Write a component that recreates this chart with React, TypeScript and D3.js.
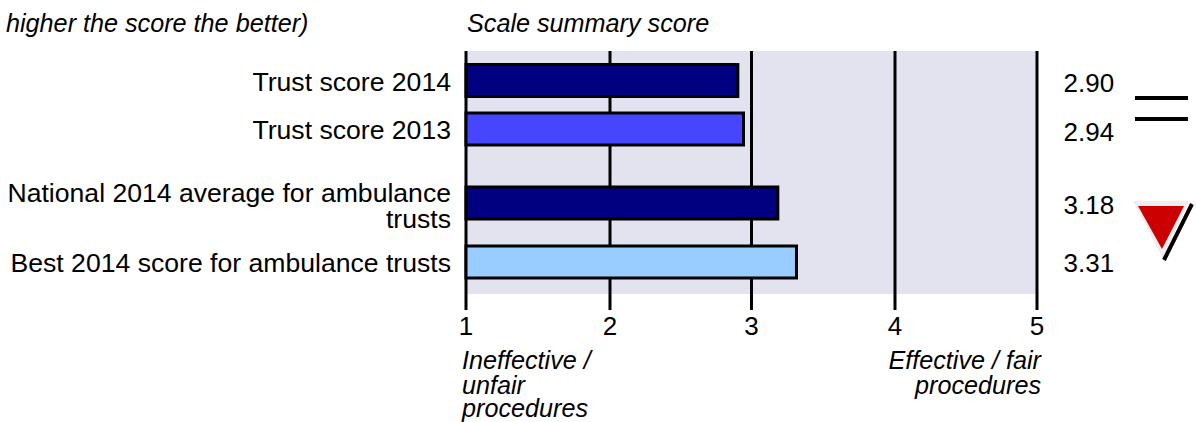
import React from "react";
import * as d3 from "d3";

const categories = ["Trust score 2014", "Trust score 2013", "National 2014 average for ambulance trusts", "Best 2014 score for ambulance trusts"];
const categoryLines = [["Trust score 2014"], ["Trust score 2013"], ["National 2014 average for ambulance", "trusts"], ["Best 2014 score for ambulance trusts"]];
const values = [2.9, 2.94, 3.18, 3.31];
const valueLabels = ["2.90", "2.94", "3.18", "3.31"];
const barColors = ["#000080", "#4646FF", "#000080", "#99CCFF"];
const ticks = [1, 2, 3, 4, 5];

const FONT = "'Liberation Sans', Arial, sans-serif";

export default function App() {
  const x = d3.scaleLinear().domain(ticks).range([466, 610, 751.5, 895, 1037]);
  const y = d3.scaleOrdinal<string, number>().domain(categories).range([80.5, 129, 203, 262]);
  const barH = 32;
  const fs = 26.6;
  const fsI = 25.2;
  const tri = (a: [number, number], b: [number, number], c: [number, number]) => d3.line()([a, b, c]) + "Z";
  return (
    <svg width={1197} height={422} style={{ position: "absolute", left: 0, top: 0, fontFamily: FONT }}>
      <rect x={x(1)} y={51} width={x(5) - x(1)} height={243} fill="#E3E3F0" />
      {ticks.map((t) => (
        <g key={t}>
          <line x1={x(t)} x2={x(t)} y1={51} y2={310} stroke="#000" strokeWidth={3} />
          <text x={x(t)} y={335} fontSize={26} textAnchor="middle" fill="#000">{t}</text>
        </g>
      ))}
      {categories.map((c, i) => {
        const cy = y(c);
        return (
          <g key={c}>
            <rect x={x(1)} y={cy - barH / 2} width={x(values[i]) - x(1) + 0.5} height={barH} fill={barColors[i]} stroke="#000" strokeWidth={3} />
            {categoryLines[i].map((l, j) => (
              <text key={l} x={451} y={(categoryLines[i].length > 1 ? cy - 1 : cy + 10) + j * 25.5} fontSize={fs} textAnchor="end" fill="#000">{l}</text>
            ))}
            <text x={1063.5} y={[91.5, 141, 214, 272][i]} fontSize={26} fill="#000">{valueLabels[i]}</text>
          </g>
        );
      })}
      <text x={6} y={32} fontSize={fsI} fontStyle="italic" fill="#000">higher the score the better)</text>
      <text x={467} y={32} fontSize={fsI} fontStyle="italic" fill="#000">Scale summary score</text>
      <g fontSize={fsI} fontStyle="italic" fill="#000">
        <text x={462} y={369}>Ineffective /</text>
        <text x={462} y={393.5}>unfair</text>
        <text x={462} y={416.5}>procedures</text>
        <text x={1041} y={369} textAnchor="end">Effective / fair</text>
        <text x={1041} y={393.5} textAnchor="end">procedures</text>
      </g>
      <line x1={1135} x2={1188} y1={98} y2={98} stroke="#000" strokeWidth={4} />
      <line x1={1135} x2={1188} y1={119} y2={119} stroke="#000" strokeWidth={4} />
      <path d={tri([1133, 201], [1189, 201], [1163, 259])} fill="#EEEEEE" />
      <path d={tri([1138, 206], [1184, 206], [1162, 249])} fill="#CC0000" />
      <line x1={1192} x2={1164} y1={204} y2={260} stroke="#000" strokeWidth={4} />
    </svg>
  );
}
